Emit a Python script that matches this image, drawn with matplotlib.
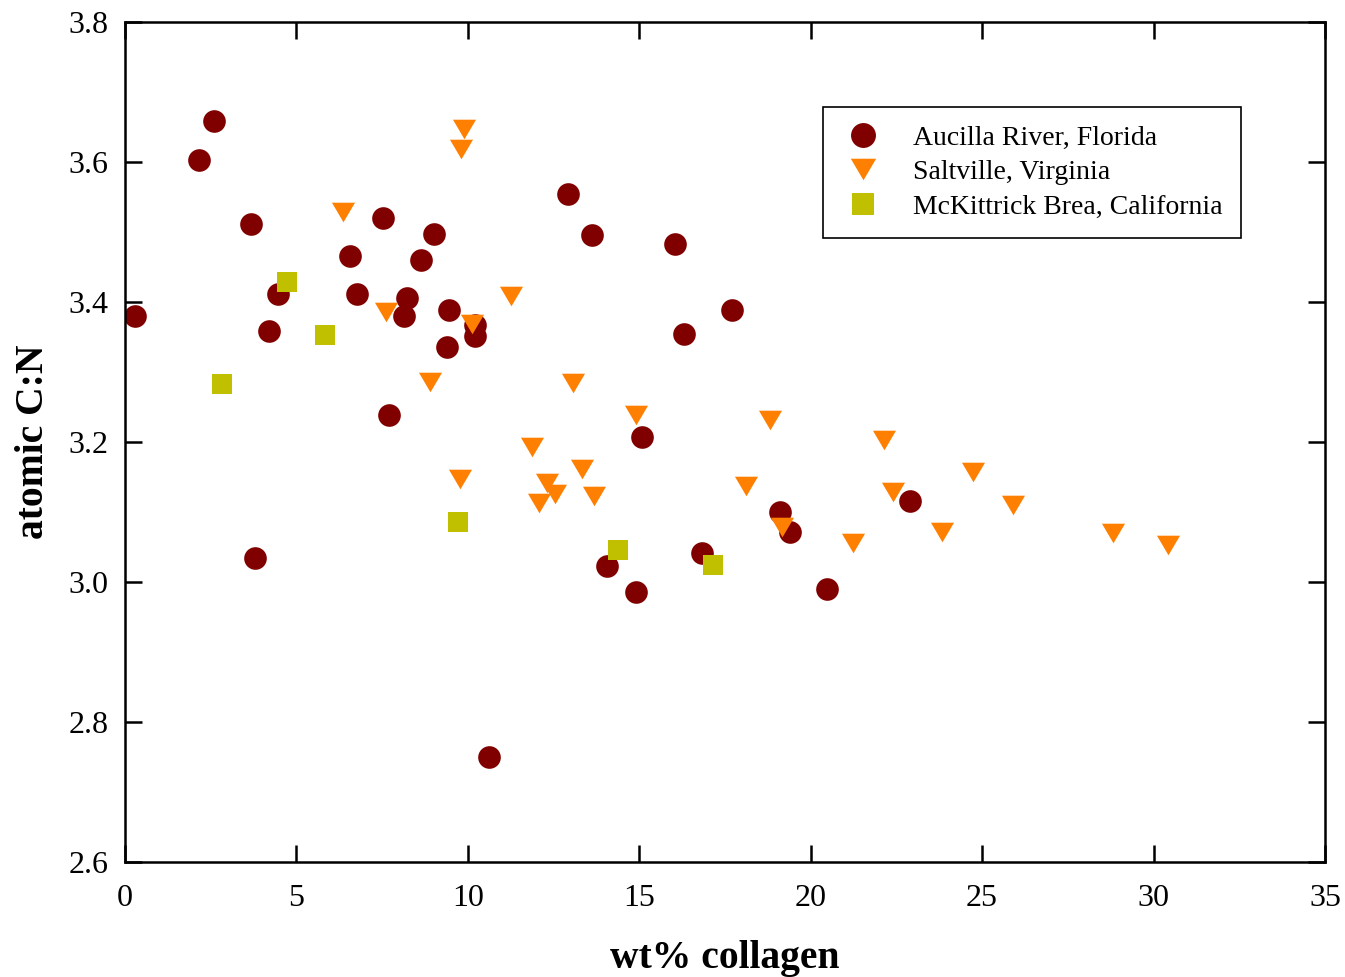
import numpy as np
import matplotlib.pyplot as plt
from matplotlib.path import Path

plt.rcParams['font.family'] = ['Liberation Serif', 'DejaVu Serif']

# Aucilla River, Florida
aucilla_x = [0.29, 2.16, 2.6, 3.67, 4.46, 4.2, 3.79, 6.56, 6.77, 7.52, 7.7,
             8.22, 8.14, 8.63, 9.01, 9.45, 9.39, 10.2, 10.2, 10.62, 12.92,
             13.62, 15.08, 14.06, 14.9, 16.04, 16.3, 16.83, 17.7, 19.1,
             19.4, 20.48, 22.9]
aucilla_y = [3.38, 3.603, 3.659, 3.511, 3.411, 3.359, 3.034, 3.466, 3.411,
             3.52, 3.239, 3.406, 3.38, 3.46, 3.497, 3.389, 3.336, 3.367,
             3.351, 2.75, 3.554, 3.496, 3.207, 3.023, 2.986, 3.483, 3.354,
             3.041, 3.389, 3.1, 3.071, 2.99, 3.116]

# Saltville, Virginia
saltville_x = [9.89, 9.79, 6.35, 7.6, 10.12, 11.26, 8.89, 13.07, 14.9,
               11.87, 9.77, 13.33, 12.3, 12.54, 12.07, 13.68, 18.8, 18.11,
               22.13, 22.39, 24.74, 21.24, 23.83, 19.17, 25.91, 28.83, 30.42]
saltville_y = [3.647, 3.619, 3.529, 3.386, 3.369, 3.409, 3.286, 3.284, 3.239,
               3.193, 3.147, 3.161, 3.141, 3.126, 3.113, 3.123, 3.232, 3.137,
               3.203, 3.129, 3.157, 3.056, 3.071, 3.079, 3.110, 3.070, 3.053]

# McKittrick Brea, California
mckittrick_x = [4.72, 2.83, 5.83, 9.71, 14.38, 17.15]
mckittrick_y = [3.429, 3.283, 3.353, 3.086, 3.046, 3.024]

# wide, flat downward triangle
tri_down = Path([(-1.0, 0.85), (1.0, 0.85), (0.0, -0.85), (-1.0, 0.85)],
                [Path.MOVETO, Path.LINETO, Path.LINETO, Path.CLOSEPOLY])

fig = plt.figure(figsize=(13.45, 9.77), dpi=100)
ax = fig.add_axes([0.0929, 0.1177, 0.8922, 0.8598])

ax.plot(aucilla_x, aucilla_y, linestyle='none', marker='o', markersize=16.3,
        color='#800000', markeredgewidth=0, label='Aucilla River, Florida')
ax.plot(saltville_x, saltville_y, linestyle='none', marker=tri_down,
        markersize=16.6, color='#ff8000', markeredgewidth=0,
        label='Saltville, Virginia')
ax.plot(mckittrick_x, mckittrick_y, linestyle='none', marker='s',
        markersize=14.4, color='#c0c000', markeredgewidth=0,
        label='McKittrick Brea, California')

ax.set_xlim(0, 35)
ax.set_ylim(2.6, 3.8)
ax.set_xticks(np.arange(0, 36, 5))
ax.set_yticks(np.arange(2.6, 3.81, 0.2))
ax.set_yticklabels(['%.1f' % v for v in np.arange(2.6, 3.81, 0.2)])

ax.tick_params(direction='in', length=12, width=1.8, labelsize=23,
               top=True, right=True)
ax.tick_params(axis='x', pad=16)
ax.tick_params(axis='y', pad=12)
for s in ax.spines.values():
    s.set_linewidth(1.8)

ax.set_xlabel('wt% collagen', fontsize=28.5, fontweight='bold', labelpad=19)
ax.set_ylabel('atomic C:N', fontsize=28.5, fontweight='bold', labelpad=12)

leg = ax.legend(loc='upper left', bbox_to_anchor=(0.5817, 0.8988),
                borderaxespad=0, fontsize=20, frameon=True, fancybox=False,
                edgecolor='black', framealpha=1, handlelength=1.6,
                handletextpad=1.0, labelspacing=0.33, borderpad=0.65,
                markerscale=1.1)
leg.get_frame().set_linewidth(1.2)

fig.savefig('out.png', dpi=100)
